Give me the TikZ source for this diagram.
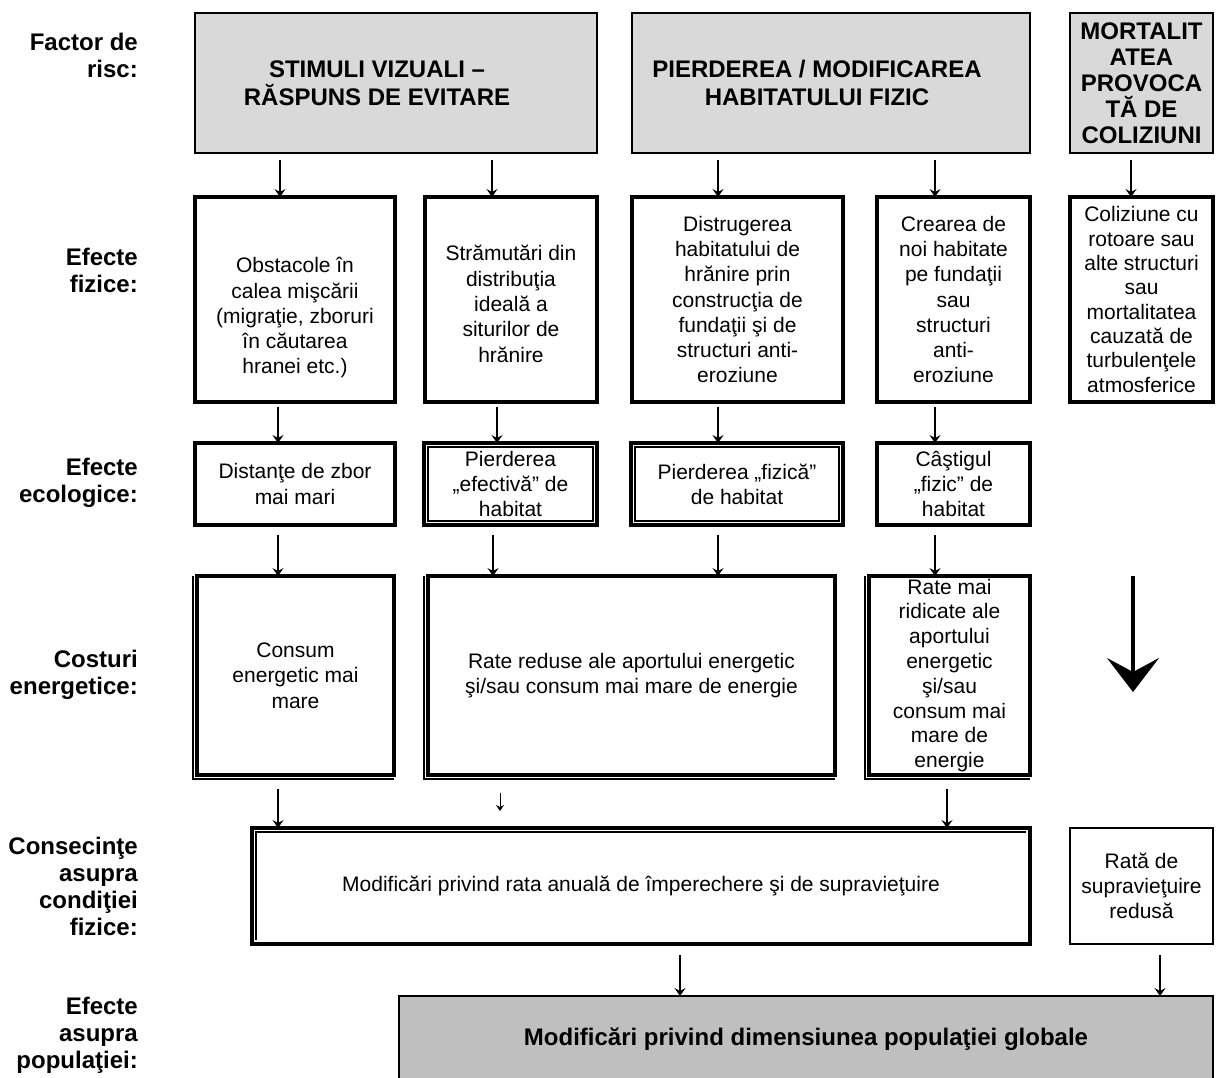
\documentclass[tikz,border=0pt]{standalone}
\usepackage{fontspec}
\setmainfont{Liberation Sans}
\usetikzlibrary{arrows.meta,calc}
\definecolor{grayA}{HTML}{D9D9D9}
\definecolor{grayB}{HTML}{BFBFBF}
\tikzset{
  x=1pt, y=-1pt,
  nt/.style={font=\fontsize{21}{25.3}\selectfont, align=center, inner sep=0pt, outer sep=0pt},
  bt/.style={font=\fontsize{24}{28.5}\selectfont\bfseries, align=center, inner sep=0pt, outer sep=0pt},
  lab/.style={font=\fontsize{24}{27}\selectfont\bfseries, align=right, anchor=east, inner sep=0pt},
  topbox/.style={bt, draw, fill=grayA, line width=2pt},
  sbox/.style={nt, draw, line width=3.2pt},
  popbox/.style={bt, draw, fill=grayB, line width=2pt},
  arr/.style={line width=1.1pt, -{Stealth[length=8pt,width=11pt,inset=3pt]}},
  smallarr/.style={line width=0.8pt, -{Stealth[length=6pt,width=8pt,inset=2pt]}},
  bigarr/.style={line width=4pt, -{Stealth[length=34pt,width=52pt,inset=14pt]}},
  thinl/.style={line width=1.2pt},
}
% style, name, x1, y1, x2, y2, text
\newcommand\mkbox[7]{\node[#1, minimum width={#5-#3}, minimum height={#6-#4}] (#2) at ({(#3+#5)/2},{(#4+#6)/2}) {#7};}
% vertical arrow: [style] from, to, x, gap
\newcommand\varr[5][arr]{\draw[#1] let \p1=(#2.south), \p2=(#3.north) in (#4pt,\y1-#5pt) -- (#4pt,\y2);}
\newcommand\outL[1]{\draw[thinl] ([xshift=-4pt]#1.north west) |- ([yshift=-4pt]#1.south east);}
\newcommand\inR[1]{\draw[thinl] ([shift={(4pt,-4pt)}]#1.north west) rectangle ([shift={(-4pt,4pt)}]#1.south east);}
\begin{document}
\begin{tikzpicture}
\useasboundingbox (0,0) rectangle (1218,1077);
\fill[white] (0,0) rectangle (1218,1077);

% row labels
\node[lab] (l1) at (138,55) {Factor de\\risc:};
\node[lab] (l2) at (138,270) {Efecte\\fizice:};
\node[lab] (l3) at (138,483) {Efecte\\ecologice:};
\node[lab] (l4) at (138,675) {Costuri\\energetice:};
\node[lab] (l5) at (138,886) {Consecinţe\\asupra\\condiţiei\\fizice:};
\node[lab] (l6) at (138,1035) {Efecte\\asupra\\populaţiei:};

% row 1: risk factors
\mkbox{topbox}{top1}{195}{13}{597}{153}{\hspace*{-38pt}STIMULI VIZUALI –\\\hspace*{-38pt}RĂSPUNS DE EVITARE}
\mkbox{topbox}{top2}{632}{13}{1030}{153}{\hspace*{-28pt}PIERDEREA / MODIFICAREA\\\hspace*{-28pt}HABITATULUI FIZIC}
\mkbox{topbox,font=\fontsize{24}{26}\selectfont\bfseries}{top3}{1070}{13}{1213}{153}{MORTALIT\\ATEA\\PROVOCA\\TĂ DE\\COLIZIUNI}

% row 2: physical effects
\mkbox{sbox}{r2a}{195}{197}{395}{402}{\rule{0pt}{52pt}Obstacole în\\calea mişcării\\(migraţie, zboruri\\în căutarea\\hranei etc.)}
\mkbox{sbox}{r2b}{425}{197}{597}{402}{\rule{0pt}{24pt}Strămutări din\\distribuţia\\ideală a\\siturilor de\\hrănire}
\mkbox{sbox}{r2c}{632}{197}{843}{402}{Distrugerea\\habitatului de\\hrănire prin\\construcţia de\\fundaţii şi de\\structuri anti-\\eroziune}
\mkbox{sbox}{r2d}{877}{197}{1030}{402}{Crearea de\\noi habitate\\pe fundaţii\\sau\\structuri\\anti-\\eroziune}
\mkbox{sbox,font=\fontsize{21}{24.3}\selectfont}{r2e}{1070}{197}{1213}{402}{Coliziune cu\\rotoare sau\\alte structuri\\sau\\mortalitatea\\cauzată de\\turbulenţele\\atmosferice}

% row 3: ecological effects
\mkbox{sbox}{r3a}{195}{443}{395}{525}{Distanţe de zbor\\mai mari}
\mkbox{sbox}{r3b}{424}{443}{597}{525}{Pierderea\\„efectivă” de\\habitat}
\inR{r3b}
\mkbox{sbox}{r3c}{631}{443}{843}{525}{Pierderea „fizică”\\de habitat}
\inR{r3c}
\mkbox{sbox}{r3d}{877}{443}{1030}{525}{Câştigul\\„fizic” de\\habitat}

% row 4: energy costs
\mkbox{sbox}{r4a}{197}{576}{394}{775}{Consum\\energetic mai\\mare}
\outL{r4a}
\mkbox{sbox}{r4b}{428}{576}{835}{775}{Rate reduse ale aportului energetic\\şi/sau consum mai mare de energie}
\outL{r4b}
\mkbox{sbox,font=\fontsize{21}{24.8}\selectfont}{r4c}{869}{576}{1030}{775}{Rate mai\\ridicate ale\\aportului\\energetic\\şi/sau\\consum mai\\mare de\\energie}
\outL{r4c}

% row 5: consequences
\mkbox{sbox}{r5a}{252}{828}{1030}{944}{Modificări privind rata anuală de împerechere şi de supravieţuire}
\draw[thinl] ([shift={(4pt,4pt)}]r5a.south west) |- ([shift={(-4pt,-4pt)}]r5a.north east);
\mkbox{sbox,line width=2.6pt}{r5b}{1070}{828}{1213}{944}{Rată de\\supravieţuire\\redusă}

% row 6: population effects
\mkbox{popbox}{r6}{399}{996}{1213}{1082}{Modificări privind dimensiunea populaţiei globale}

% arrows row 1 -> 2
\varr{top1}{r2a}{280}{7}
\varr{top1}{r2b}{492}{7}
\varr{top2}{r2c}{718}{7}
\varr{top2}{r2d}{935}{7}
\varr{top3}{r2e}{1131}{7}
% row 2 -> 3
\varr{r2a}{r3a}{278}{5}
\varr{r2b}{r3b}{497}{5}
\varr{r2c}{r3c}{718}{5}
\varr{r2d}{r3d}{935}{5}
% row 3 -> 4
\varr{r3a}{r4a}{278}{10}
\varr{r3b}{r4b}{493}{10}
\varr{r3c}{r4b}{718}{10}
\varr{r3d}{r4c}{935}{10}
% big arrow (mortality path)
\coordinate (ba1) at (1133,576);
\coordinate (ba2) at (1133,692);
\draw[bigarr] (ba1) -- (ba2);
% row 4 -> 5
\varr{r4a}{r5a}{278}{14}
\coordinate (sa) at (500,811);
\draw[smallarr] let \p1=(r4b.south) in (500pt,\y1-18pt) -- (sa);
\varr{r4c}{r5a}{947}{14}
% row 5 -> 6
\varr{r5a}{r6}{680}{11}
\varr{r5b}{r6}{1160}{11}
\end{tikzpicture}
\end{document}
